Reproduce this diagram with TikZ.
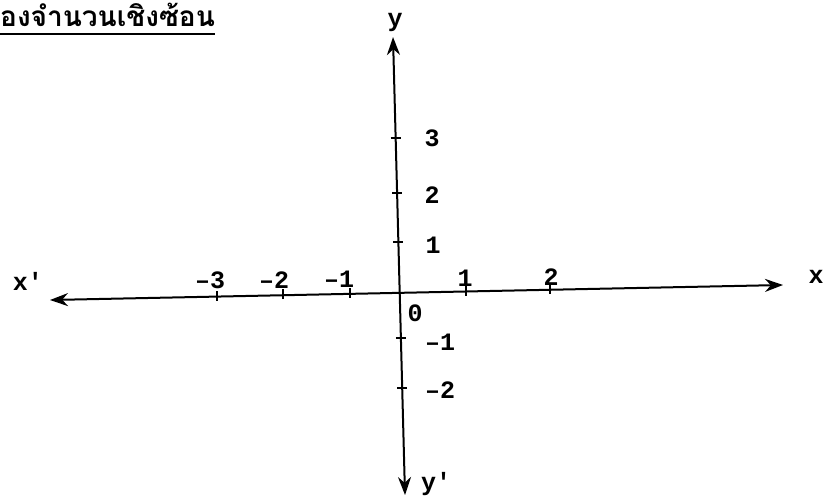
\documentclass[tikz,border=0pt]{standalone}
\usepackage{fontspec}
\newfontfamily\thaifont[Script=Thai]{Loma}
\setmonofont{Liberation Mono}
\usetikzlibrary{arrows.meta}
\begin{document}
\begin{tikzpicture}[x=1pt,y=-1pt,
  axisline/.style={line width=2pt, {Stealth[length=18pt,width=13pt]}-{Stealth[length=18pt,width=13pt]}},
  tickmark/.style={line width=2pt},
  lbl/.style={font=\ttfamily\bfseries\fontsize{25}{25}\selectfont, inner sep=0pt},
  titlefont/.style={font=\thaifont\bfseries\fontsize{28}{32}\selectfont, inner sep=0pt}]
\useasboundingbox (0,0) rectangle (826,500);
% title
\node[titlefont, anchor=base west] (title) at (0,27) {องจำนวนเชิงซ้อน};
\draw[line width=1.8pt] (0,34) -- (title.east |- 0,34);
% axes
\coordinate (xl) at (50,300);
\coordinate (xr) at (783,285);
\coordinate (yt) at (393,37);
\coordinate (yb) at (405,495);
\draw[axisline] (xl) -- (xr);
\draw[axisline] (yt) -- (yb);
% x ticks
\foreach \n/\x/\y in {m3/217/296.6, m2/283/295.2, m1/350/293.9, p1/466/291.5, p2/550/289.8}{
  \coordinate (xt\n) at (\x,\y);
  \draw[tickmark] ([yshift=-4pt]xt\n) -- ([yshift=6pt]xt\n);
}
% y ticks
\foreach \n/\x/\y in {p3/395.6/138, p2/397.1/193, p1/398.4/242, m1/400.9/338, m2/402.2/388}{
  \coordinate (yt\n) at (\x,\y);
  \draw[tickmark] ([xshift=-5pt]yt\n) -- ([xshift=5pt]yt\n);
}
% labels
\node[lbl] (lxp) at (28,281) {x'};
\node[lbl] (lx) at (816,277) {x};
\node[lbl] (ly) at (395,22) {y};
\node[lbl] (lyp) at (436,484) {y'};
\node[lbl] (lm3) at (210,280) {–3};
\node[lbl] (lm2) at (274,280) {–2};
\node[lbl] (lm1) at (339,279) {–1};
\node[lbl] (lp1) at (465,278) {1};
\node[lbl] (lp2) at (551,277) {2};
\node[lbl] (l0) at (415,313) {0};
\node[lbl] (ly3) at (432,138) {3};
\node[lbl] (ly2) at (432,195) {2};
\node[lbl] (ly1) at (433,245) {1};
\node[lbl] (lym1) at (440,342) {–1};
\node[lbl] (lym2) at (440,390) {–2};
\end{tikzpicture}
\end{document}
